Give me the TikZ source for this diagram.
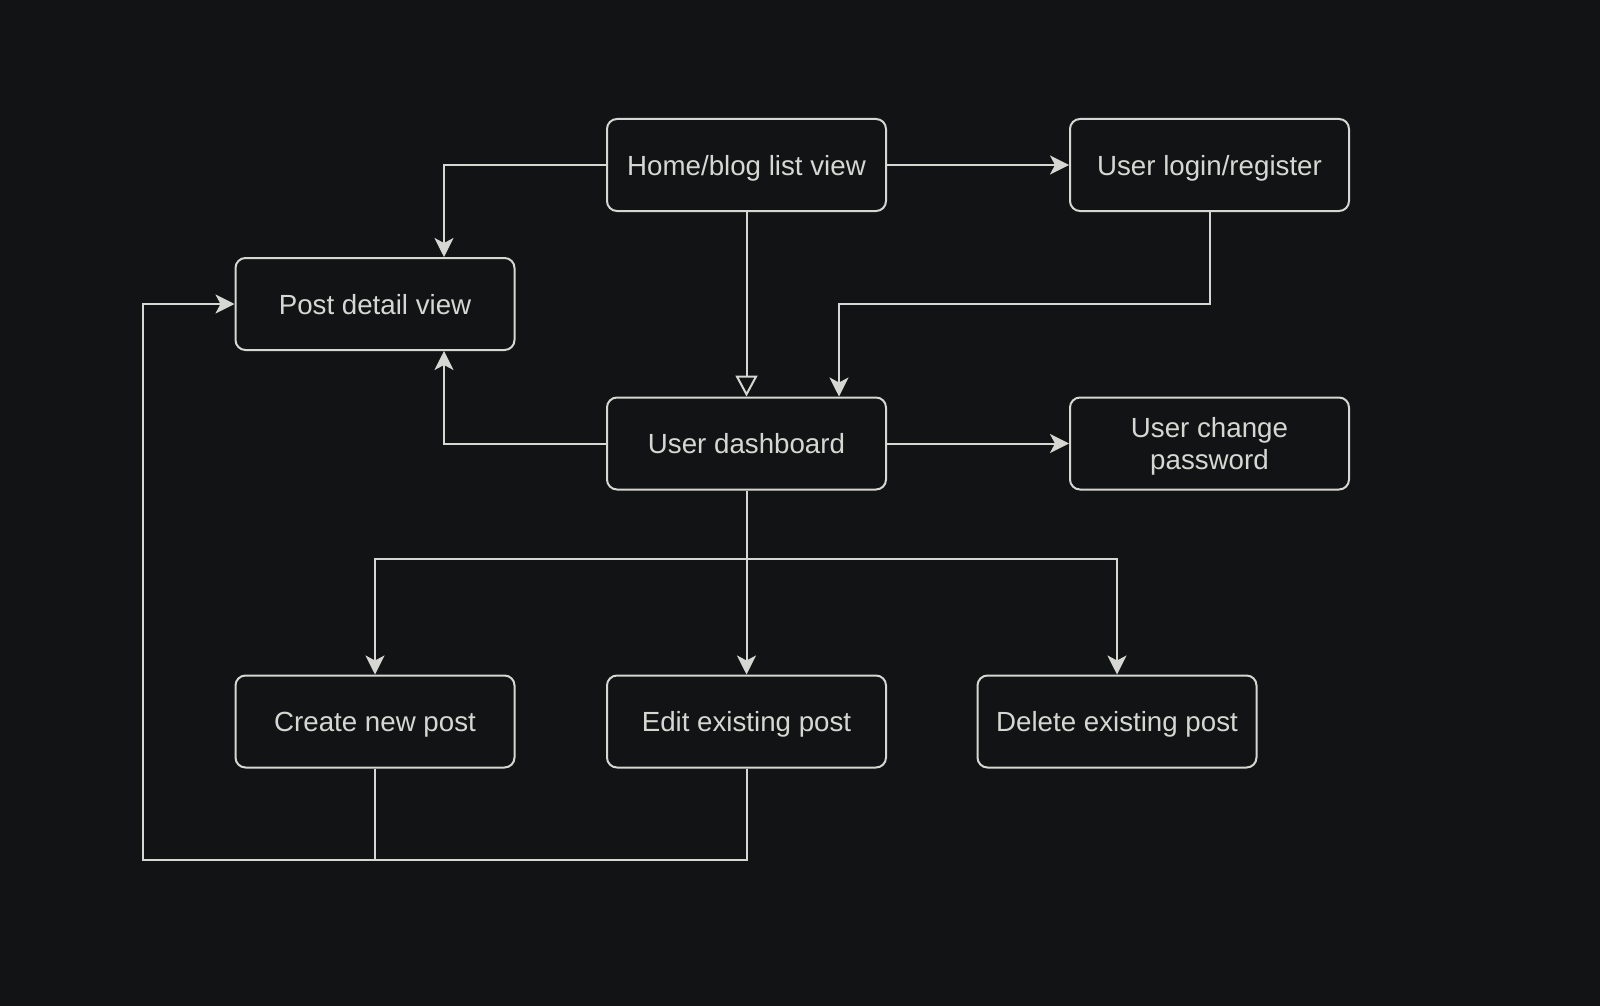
\documentclass[tikz,border=0pt]{standalone}
\usepackage{fontspec}
\setmainfont{Liberation Sans}
\usetikzlibrary{arrows.meta}
\definecolor{bgc}{HTML}{121315}
\definecolor{fgc}{HTML}{D6D6D2}
\tikzset{
  box/.style={draw=fgc, line width=2pt, rounded corners=10pt, fill=bgc,
    minimum width=279pt, minimum height=92pt, inner sep=0pt, align=center,
    text depth=0pt,
    text=fgc, font=\fontsize{27.7}{32.6}\selectfont},
  conn/.style={draw=fgc, line width=2pt},
  arr/.style={conn, -{Stealth[length=19pt, width=19pt, inset=5pt]}},
  openarr/.style={conn, -{Triangle[open, length=21pt, width=22pt, line width=2pt]}}
}
\begin{document}
\begin{tikzpicture}[x=1pt, y=-1pt]
\fill[bgc] (0,0) rectangle (1600,1006);
\useasboundingbox (0,0) rectangle (1600,1006);

\node[box] (home)   at (746.5,165)   {Home/blog list view};
\node[box] (login)  at (1209.5,165)  {User login/register};
\node[box] (post)   at (375,304)     {Post detail view};
\node[box] (dash)   at (746.5,443.5) {User dashboard};
\node[box] (pwd)    at (1209.5,443.5){User change\\password};
\node[box] (create) at (375,721.5)   {Create new post};
\node[box] (edit)   at (746.5,721.5) {Edit existing post};
\node[box] (delete) at (1117,721.5)  {Delete existing post};

\coordinate (lj) at (839,304);
\coordinate (br) at (746.5,559);
\coordinate (lb) at (143,860);

\draw[arr] (home.west) -| ([xshift=69pt]post.north);
\draw[arr] (home.east) -- (login.west);
\draw[openarr] (home.south) -- (dash.north);
\draw[arr] (login.south) |- (lj) -- (lj |- dash.north);
\draw[arr] (dash.west) -| ([xshift=69pt]post.south);
\draw[arr] (dash.east) -- (pwd.west);
\draw[conn] (dash.south) -- (br);
\draw[arr] (br) -| (create.north);
\draw[arr] (br) -- (edit.north);
\draw[arr] (br) -| (delete.north);
\draw[conn] (edit.south) |- (create.south |- lb);
\draw[arr] (create.south) |- (lb) |- (post.west);
\end{tikzpicture}
\end{document}
